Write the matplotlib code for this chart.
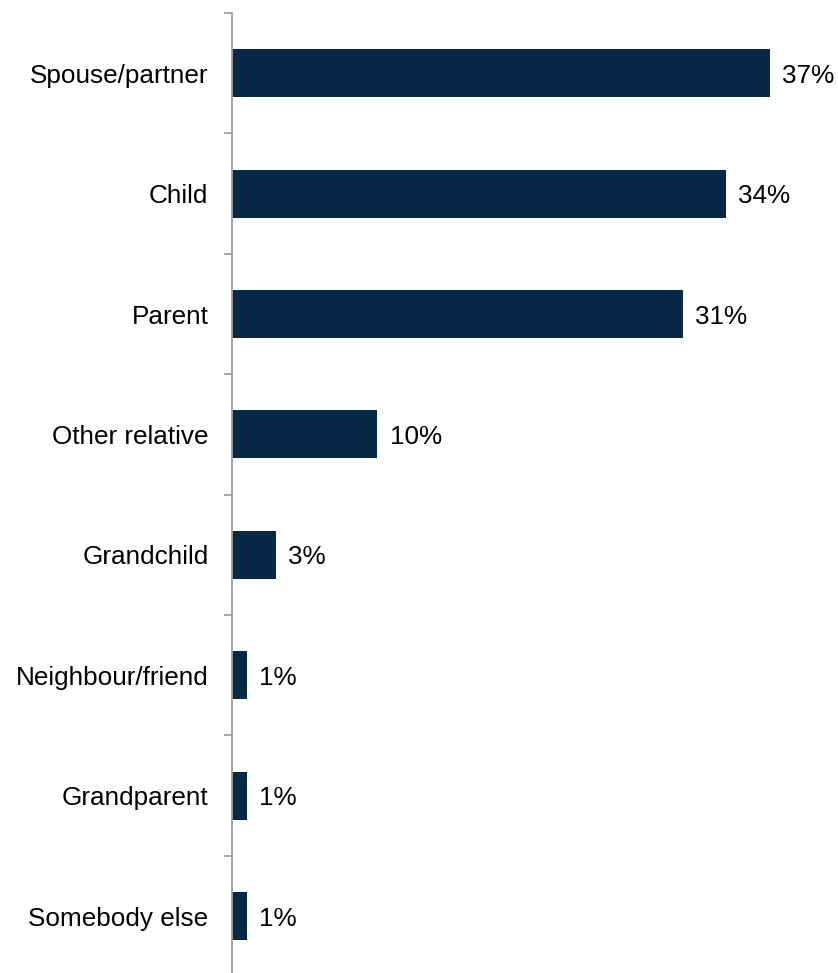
import numpy as np
import matplotlib.pyplot as plt
from matplotlib.ticker import FixedLocator, NullFormatter

# Data
categories = ["Spouse/partner", "Child", "Parent", "Other relative",
              "Grandchild", "Neighbour/friend", "Grandparent", "Somebody else"]
values = [37, 34, 31, 10, 3, 1, 1, 1]

BAR_COLOR = "#072946"
AXIS_COLOR = "#A0A0A0"
FS = 18.8

plt.rcParams['font.family'] = ['Liberation Sans', 'DejaVu Sans']

W, H = 838, 973
fig = plt.figure(figsize=(W / 100, H / 100), dpi=100, facecolor='white')

# axes placed in pixel terms: spine at x=232, top boundary at y=13
n = len(categories)
step_px = 120.4
top_px = 13
bottom_px = top_px + n * step_px
left_px = 232
ax = fig.add_axes([left_px / W, 1 - bottom_px / H, (W - left_px) / W, (bottom_px - top_px) / H])

y = np.arange(n)
ax.barh(y, values, height=0.40, color=BAR_COLOR)
ax.set_ylim(n - 0.5, -0.5)
ax.set_xlim(0, 41.7)

for yi, v in zip(y, values):
    ax.text(v + 0.85, yi, f"{v}%", va='center_baseline', ha='left', fontsize=FS, color='black')

for s in ['top', 'right', 'bottom']:
    ax.spines[s].set_visible(False)
ax.spines['left'].set_color(AXIS_COLOR)
ax.spines['left'].set_linewidth(1.3)

ax.set_xticks([])
# major ticks at category boundaries, labels on minor ticks at centres
ax.yaxis.set_major_locator(FixedLocator(np.arange(-0.5, n, 1.0)))
ax.yaxis.set_major_formatter(NullFormatter())
ax.yaxis.set_minor_locator(FixedLocator(y))
ax.set_yticklabels(categories, minor=True)
ax.tick_params(axis='y', which='major', length=6, width=1.3, color=AXIS_COLOR)
ax.tick_params(axis='y', which='minor', length=0, pad=17, labelsize=FS)

fig.savefig("out.png", dpi=100, facecolor='white')
